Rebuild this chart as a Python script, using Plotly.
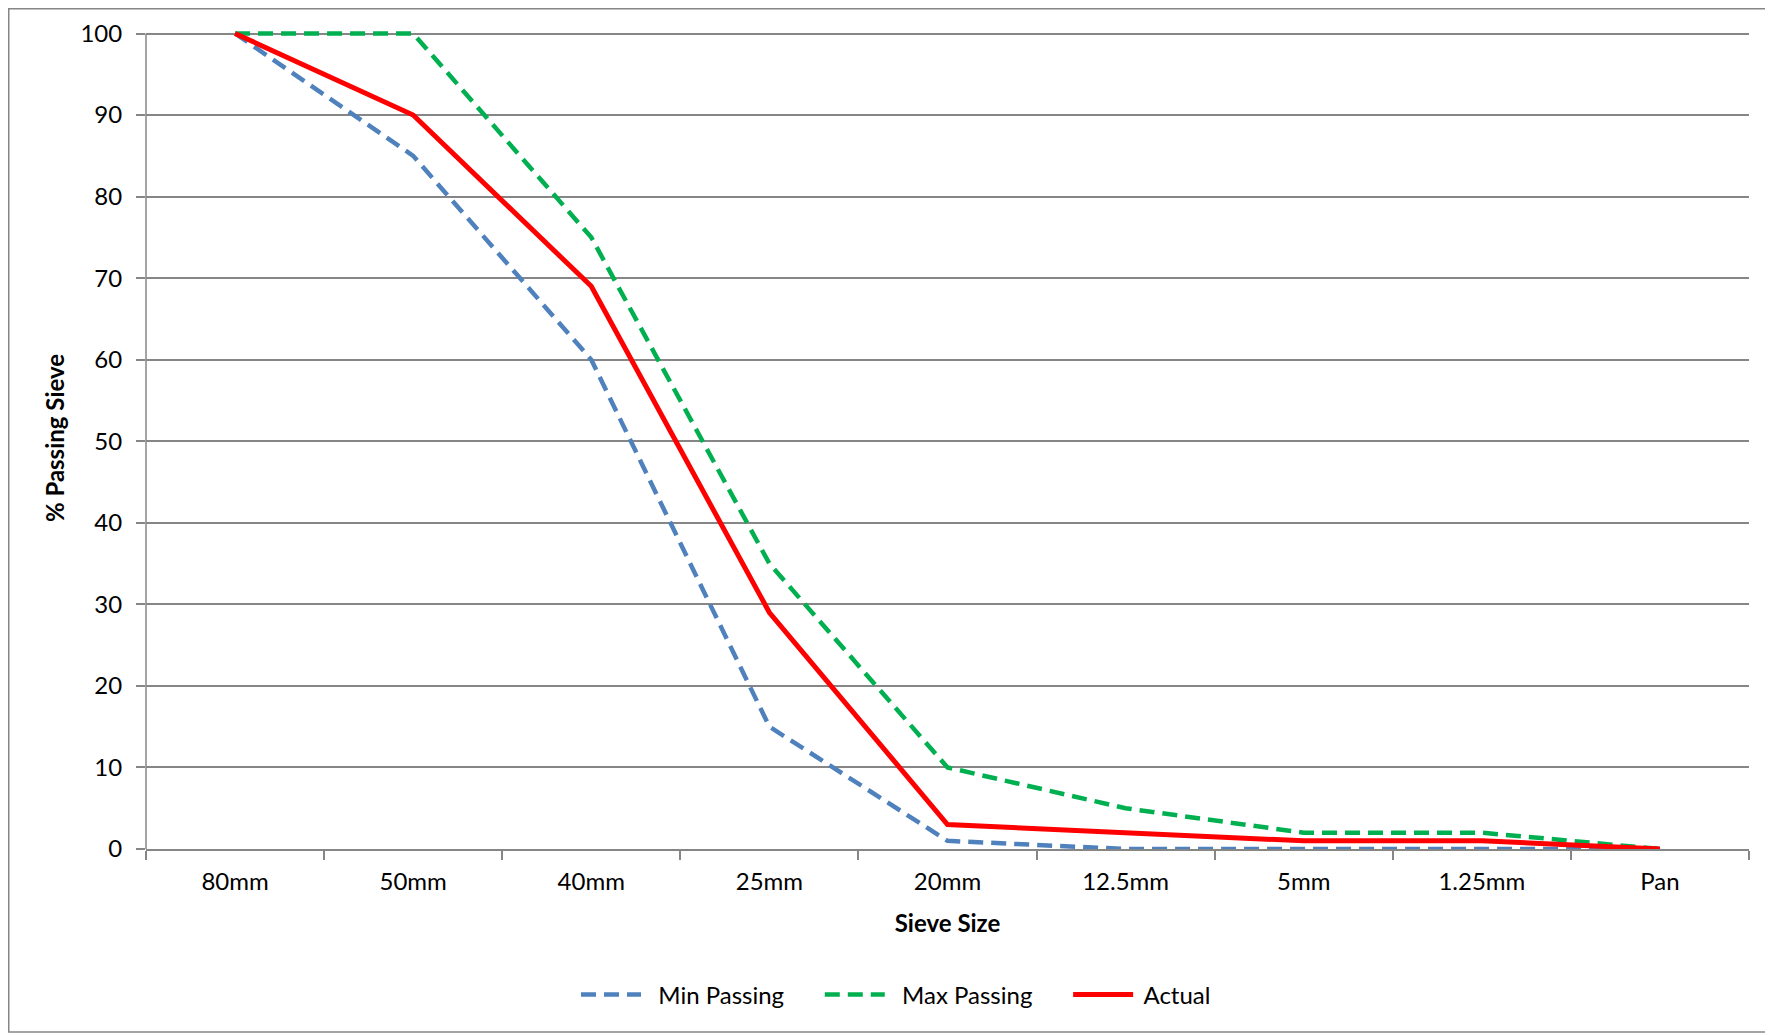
import plotly.graph_objects as go

sieve_sizes = ["80mm", "50mm", "40mm", "25mm", "20mm", "12.5mm", "5mm", "1.25mm", "Pan"]
min_passing = [100, 85, 60, 15, 1, 0, 0, 0, 0]
max_passing = [100, 100, 75, 35, 10, 5, 2, 2, 0]
actual = [100, 90, 69, 29, 3, 2, 1, 1, 0]

W, H = 1773, 1035
Y_TOP = 100.8
L, R, B = 138, 32, 194
PH100 = 1035 - 26 - 194          # pixel height of 0..100
T = 26 - round(PH100 * (Y_TOP - 100) / 100)
FONT = "Lato"
NB = "\u00a0"
AX = "#868686"

fig = go.Figure()
fig.add_trace(go.Scatter(x=sieve_sizes, y=min_passing, name=NB * 2 + "Min Passing" + NB * 5, mode="lines",
                         line=dict(color="#4F81BD", width=4.5, dash="15px,8px")))
fig.add_trace(go.Scatter(x=sieve_sizes, y=max_passing, name=NB * 2 + "Max Passing" + NB * 5, mode="lines",
                         line=dict(color="#00B050", width=4.5, dash="15px,8px")))
fig.add_trace(go.Scatter(x=sieve_sizes, y=actual, name=NB + "Actual", mode="lines",
                         line=dict(color="#FF0000", width=5)))

pw = W - L - R
ph = H - T - B
def px_x(p):
    return (p - L) / pw
def px_y(p):
    return (H - B - p) / ph

fig.update_layout(
    width=W, height=H,
    margin=dict(l=L, r=R, t=T, b=B, autoexpand=False),
    paper_bgcolor="white", plot_bgcolor="white",
    font=dict(family=FONT, size=24, color="black"),
    showlegend=True,
    legend=dict(orientation="h", x=px_x(888), xanchor="center",
                y=px_y(987), yanchor="middle",
                font=dict(size=24), itemwidth=60, bgcolor="rgba(0,0,0,0)"),
    xaxis=dict(
        type="category", range=[-0.5, 8.5], showgrid=False,
        showline=True, linecolor=AX, linewidth=1.5,
        ticks="outside", tickson="boundaries", ticklen=9, tickcolor=AX, tickwidth=1.5,
        tickfont=dict(size=24), ticklabelstandoff=10, tickangle=0, automargin=False,
        title=dict(text="<b>Sieve Size</b>", font=dict(size=24), standoff=22),
        fixedrange=True,
    ),
    yaxis=dict(
        range=[0, Y_TOP], tick0=0, dtick=10, showgrid=True, gridcolor=AX, gridwidth=1.5,
        showline=False,
        ticks="outside", ticklen=9, tickcolor=AX, tickwidth=1.5,
        tickfont=dict(size=24), zeroline=False, ticklabelstandoff=9, automargin=False,
        title=dict(text="<b>% Passing Sieve</b>", font=dict(size=24), standoff=9),
        fixedrange=True,
    ),
    shapes=[
        dict(type="rect", xref="paper", yref="paper",
             x0=px_x(0.75), x1=px_x(W + 5), y0=px_y(1024), y1=px_y(0.75),
             line=dict(color=AX, width=1.5), fillcolor="rgba(0,0,0,0)", layer="below"),
        dict(type="line", xref="paper", yref="y", x0=0, x1=0, y0=0, y1=100,
             line=dict(color=AX, width=1.5), layer="below"),
    ],
)

fig.write_html("out.html")
